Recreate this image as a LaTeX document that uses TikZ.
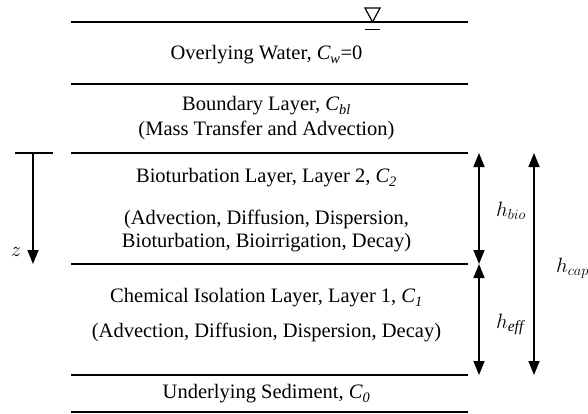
\documentclass[tikz,border=0pt]{standalone}
\usepackage{fontspec}
\setmainfont{Liberation Serif}
\usetikzlibrary{arrows.meta}
\tikzset{
  lay/.style={line width=1.6pt},
  tip/.tip={Triangle[width=11pt,length=14pt]},
  txt/.style={font=\fontsize{20.5}{24}\selectfont, align=center, inner sep=0pt},
  dim/.style={line width=1.6pt, tip-tip},
  lbl/.style={font=\fontsize{22}{26}\selectfont, inner sep=0pt}
}
\begin{document}
\begin{tikzpicture}[x=1pt,y=-1pt]
\useasboundingbox (0,0) rectangle (588,413);
% layer lines
\coordinate (L1a) at (71,22);  \coordinate (L1b) at (468,22);
\coordinate (L2a) at (71,84);  \coordinate (L2b) at (468,84);
\coordinate (L3a) at (71,153); \coordinate (L3b) at (468,153);
\coordinate (L4a) at (71,264); \coordinate (L4b) at (468,264);
\coordinate (L5a) at (71,375); \coordinate (L5b) at (468,375);
\coordinate (L6a) at (71,412); \coordinate (L6b) at (468,412);
\foreach \i in {1,...,6} {\draw[lay] (L\i a) -- (L\i b);}
% water level symbol
\draw[line width=1.2pt] (365,8) -- (380,8) -- (372.5,22) -- cycle;
\draw[line width=1.4pt] (365,29.5) -- (380,29.5);
% texts
\node[txt] (t1) at (266.5,55) {Overlying Water, \textit{C\textsubscript{w}}=0};
\node[txt] (t2) at (266.5,106) {Boundary Layer, \textit{C\textsubscript{bl}}};
\node[txt] (t3) at (266.5,130) {(Mass Transfer and Advection)};
\node[txt] (t4) at (266.5,178) {Bioturbation Layer, Layer 2, \textit{C\textsubscript{2}}};
\node[txt] (t5) at (266.5,219) {(Advection, Diffusion, Dispersion,};
\node[txt] (t6) at (266.5,243) {Bioturbation, Bioirrigation, Decay)};
\node[txt] (t7) at (266.5,298) {Chemical Isolation Layer, Layer 1, \textit{C\textsubscript{1}}};
\node[txt] (t8) at (266.5,332) {(Advection, Diffusion, Dispersion, Decay)};
\node[txt] (t9) at (266.5,394) {Underlying Sediment, \textit{C\textsubscript{0}}};
% z axis
\coordinate (zt) at (33,153);
\coordinate (zb) at (33,264);
\draw[lay] (15,153) -- (53,153);
\draw[line width=1.6pt, -tip] (zt) -- (zb);
\node[lbl] (z) at (16,252) {$z$};
% dimension arrows
\coordinate (a1) at (479,153); \coordinate (a2) at (479,264); \coordinate (a3) at (479,375);
\coordinate (b1) at (534,153); \coordinate (b2) at (534,375);
\draw[dim] (a1) -- (a2);
\draw[dim] (a2) -- (a3);
\draw[dim] (b1) -- (b2);
\node[lbl, anchor=base west] (hb) at (496,216) {$h_{bio}$};
\node[lbl, anchor=base west] (he) at (496,328) {$h_{\mathit{eff}}$};
\node[lbl, anchor=base west] (hc) at (556,272) {$h_{cap}$};
\end{tikzpicture}
\end{document}
